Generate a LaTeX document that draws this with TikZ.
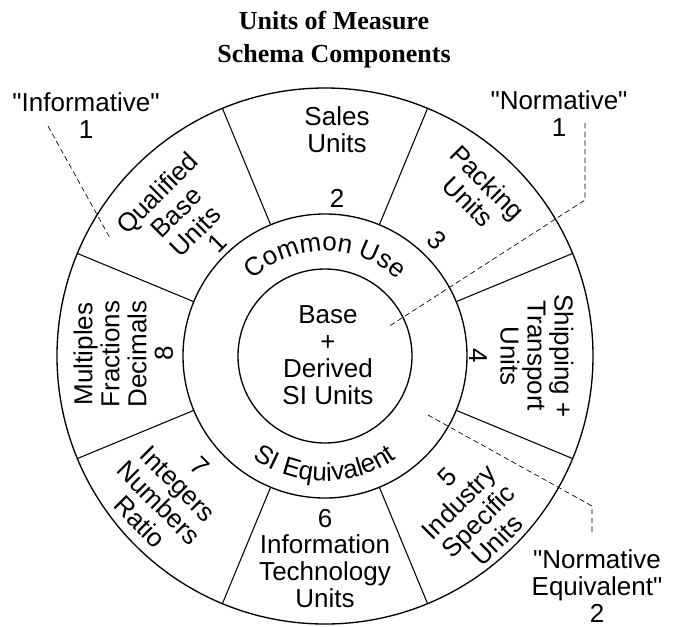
\documentclass[tikz,border=0pt]{standalone}
\usepackage{fontspec}
\setmainfont{Liberation Sans}[Ligatures=TeXOff]
\newfontfamily\titlefont{Liberation Serif}
\usetikzlibrary{decorations.text}
\newcommand\labelsize{\fontsize{19.5}{20.25}\selectfont}

\begin{document}
\begin{tikzpicture}[x=0.75pt,y=0.75pt,
  ring/.style={line width=1pt},
  spoke/.style={line width=0.8pt},
  leader/.style={line width=0.5pt,dash pattern=on 4pt off 2.5pt},
  seg/.style={align=center,font=\labelsize,inner sep=0pt},
  num/.style={font=\labelsize,inner sep=0pt}]
\useasboundingbox (-325,-270) rectangle (352,356);
\node[align=center,font=\titlefont\bfseries\fontsize{19.5}{24.75}\selectfont] (title) at (9,316)
  {Units of Measure\\Schema Components};

\coordinate (o) at (0,0);
\draw[ring] (o) circle[radius=87];
\draw[ring] (o) circle[radius=142];
\draw[ring] (o) circle[radius=268];
\foreach \a in {22.5,67.5,...,337.5}
  \draw[spoke] (\a:142) -- (\a:268);

\path[decorate,decoration={text along path,text align=center,
  text={|\labelsize|Common Use}}]
  (150:105) arc[start angle=150,end angle=30,radius=105];
\path[decorate,decoration={text along path,text align=center,
  text={|\labelsize|SI Equivalent}}]
  (-150:125) arc[start angle=-150,end angle=-30,radius=125];

\node[seg] (core) at (3,1) {Base\\+\\Derived\\SI Units};

\node[seg] (sales) at (12,226) {Sales\\Units};
\node[num] (n2) at (12,158) {2};
\node[seg,rotate=-45] (packing) at (153,164) {Packing\\Units};
\node[num,rotate=-45] (n3) at (112,116) {3};
\node[seg,rotate=-90] (shipping) at (212,0) {Shipping +\\Transport\\Units};
\node[num,rotate=-90] (n4) at (153,0) {4};
\node[seg,rotate=45] (industry) at (153,-165) {Industry\\Specific\\Units};
\node[num,rotate=45] (n5) at (122,-121) {5};
\node[seg] (info) at (0,-215) {Information\\Technology\\Units};
\node[num] (n6) at (0,-163) {6};
\node[seg,rotate=-45] (integers) at (-166,-147) {Integers\\Numbers\\Ratio};
\node[num,rotate=-45] (n7) at (-125,-110) {7};
\node[seg,rotate=90] (multiples) at (-215,2) {Multiples\\Fractions\\Decimals};
\node[num,rotate=90] (n8) at (-161,3) {8};
\node[seg,rotate=45] (qualified) at (-149,144) {Qualified\\Base\\Units};
\node[num,rotate=45] (n1) at (-108,113) {1};

\node[seg] (informative) at (-239,240) {"Informative"\\1};
\node[seg] (normative) at (234,242) {"Normative"\\1};
\node[seg] (normeq) at (272,-230) {"Normative\\Equivalent"\\2};

\coordinate (inf-a) at (-277,230);
\coordinate (inf-b) at (-215,118);
\draw[leader] (inf-a) -- (inf-b);
\coordinate (nor-a) at (260,233);
\coordinate (nor-b) at (260,156);
\coordinate (nor-c) at (63,29);
\draw[leader] (nor-a) -- (nor-b) -- (nor-c);
\coordinate (neq-a) at (103,-59);
\coordinate (neq-b) at (267,-150);
\coordinate (neq-c) at (267,-178);
\draw[leader] (neq-a) -- (neq-b) -- (neq-c);
\end{tikzpicture}
\end{document}
